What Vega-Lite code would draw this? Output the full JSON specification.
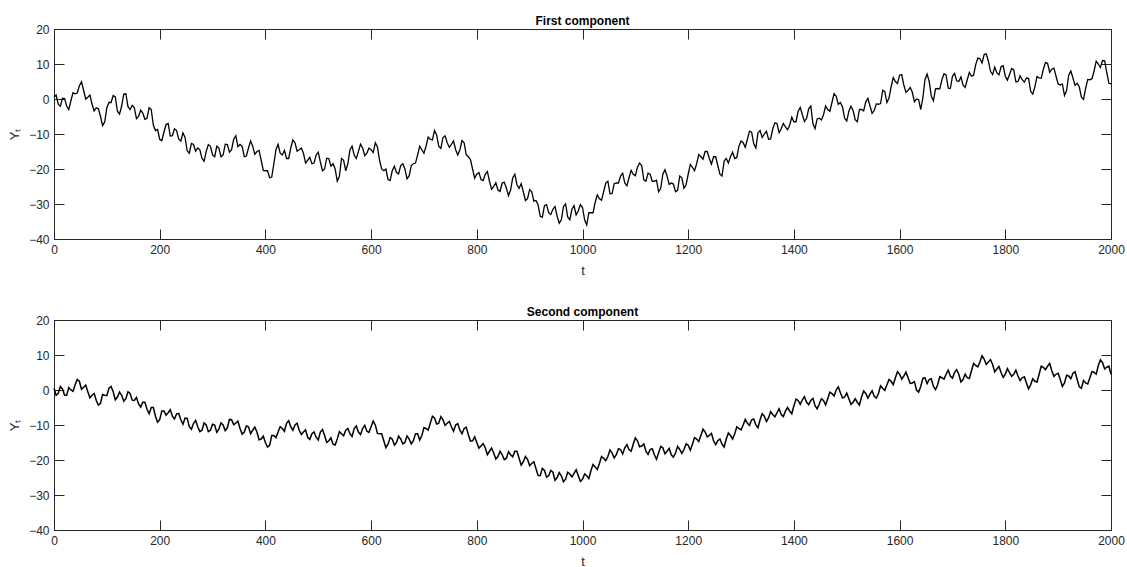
{
  "$schema": "https://vega.github.io/schema/vega-lite/v6.json",
  "background": "white",
  "padding": {"left": 8, "top": 15, "right": 10, "bottom": 0},
  "config": {
    "view": {"stroke": null},
    "font": "Liberation Sans",
    "axis": {"domainColor": "#262626", "tickColor": "#262626", "labelColor": "#262626", "titleColor": "#262626", "labelFont": "Liberation Sans", "titleFont": "Liberation Sans", "labelFontSize": 12, "titleFontSize": 13, "titleFontWeight": "normal", "grid": false, "tickSize": -10, "domainWidth": 1, "tickWidth": 1, "labelFlush": false},
    "title": {"fontSize": 12, "fontWeight": "bold", "color": "#000000", "font": "Liberation Sans", "offset": -5, "baseline": "alphabetic"},
    "concat": {"spacing": 29}
  },
  "data": {"values": [
{"t":0,"a":0.5,"b":0.5},{"t":8,"a":-1.5,"b":-1},{"t":16,"a":0.2,"b":0.3},{"t":24,"a":-2,"b":-1.5},{"t":32,"a":-0.5,"b":0},{"t":40,"a":1.5,"b":1.5},{"t":48,"a":3.8,"b":2.5},{"t":56,"a":2.5,"b":0.8},{"t":64,"a":0.5,"b":-0.5},{"t":72,"a":-1.5,"b":-1.5},
{"t":80,"a":-2.5,"b":-3},{"t":88,"a":-5,"b":-3.8},{"t":96,"a":-6.5,"b":-1.5},{"t":104,"a":-1,"b":0.5},{"t":112,"a":1,"b":-0.5},{"t":120,"a":-3.5,"b":-2},{"t":128,"a":-2,"b":-1.5},{"t":136,"a":1.5,"b":-2.5},{"t":144,"a":-3,"b":-1},{"t":152,"a":-2.5,"b":-3},
{"t":160,"a":-5,"b":-4},{"t":168,"a":-4,"b":-3.5},{"t":176,"a":-5.5,"b":-5.5},{"t":184,"a":-3,"b":-5},{"t":192,"a":-9,"b":-7.5},{"t":200,"a":-11.5,"b":-8.5},{"t":208,"a":-9.5,"b":-6},{"t":216,"a":-7,"b":-6.5},{"t":224,"a":-10.5,"b":-7.5},{"t":232,"a":-9,"b":-6.8},
{"t":240,"a":-12,"b":-8.5},{"t":248,"a":-11,"b":-8},{"t":256,"a":-15.5,"b":-10.5},{"t":264,"a":-13,"b":-9.5},{"t":272,"a":-14,"b":-10.5},{"t":280,"a":-17,"b":-11.5},{"t":288,"a":-15,"b":-10},{"t":296,"a":-13.5,"b":-11.5},{"t":304,"a":-16.5,"b":-10},{"t":312,"a":-14,"b":-11.2},
{"t":320,"a":-16,"b":-10},{"t":328,"a":-13,"b":-10.8},{"t":336,"a":-14.5,"b":-8.5},{"t":344,"a":-10.5,"b":-9.5},{"t":352,"a":-13,"b":-11},{"t":360,"a":-16.5,"b":-12},{"t":368,"a":-14,"b":-10.5},{"t":376,"a":-13.5,"b":-11.5},{"t":384,"a":-15,"b":-12},{"t":392,"a":-17.5,"b":-14},
{"t":400,"a":-20.5,"b":-15},{"t":408,"a":-22.5,"b":-15.8},{"t":416,"a":-18.5,"b":-13},{"t":424,"a":-13,"b":-12},{"t":432,"a":-16,"b":-11},{"t":440,"a":-17,"b":-9.5},{"t":448,"a":-14,"b":-10.5},{"t":456,"a":-12.5,"b":-10},{"t":464,"a":-14.5,"b":-11.5},{"t":472,"a":-15.5,"b":-12},
{"t":480,"a":-17.5,"b":-13.5},{"t":488,"a":-18.5,"b":-12.5},{"t":496,"a":-16,"b":-13.5},{"t":504,"a":-18,"b":-12},{"t":512,"a":-20,"b":-13},{"t":520,"a":-17,"b":-14.5},{"t":528,"a":-18.5,"b":-15.5},{"t":536,"a":-23.5,"b":-14},{"t":544,"a":-17,"b":-12.5},{"t":552,"a":-20.5,"b":-11.5},
{"t":560,"a":-14.5,"b":-12.5},{"t":568,"a":-16,"b":-11},{"t":576,"a":-15,"b":-12},{"t":584,"a":-14,"b":-11},{"t":592,"a":-15.5,"b":-11.8},{"t":600,"a":-14.5,"b":-10.5},{"t":608,"a":-12.5,"b":-10},{"t":616,"a":-17.5,"b":-12.5},{"t":624,"a":-20.5,"b":-14.5},{"t":632,"a":-23,"b":-15.5},
{"t":640,"a":-20.5,"b":-14},{"t":648,"a":-21,"b":-15},{"t":656,"a":-19,"b":-14},{"t":664,"a":-20,"b":-15},{"t":672,"a":-22,"b":-14},{"t":680,"a":-18.5,"b":-14.5},{"t":688,"a":-16,"b":-12.5},{"t":696,"a":-14.5,"b":-13},{"t":704,"a":-13.5,"b":-11},{"t":712,"a":-11.5,"b":-9.5},
{"t":720,"a":-9,"b":-8},{"t":728,"a":-13.5,"b":-9.5},{"t":736,"a":-11,"b":-8.5},{"t":744,"a":-12.5,"b":-9.5},{"t":752,"a":-13,"b":-10.5},{"t":760,"a":-14.5,"b":-10},{"t":768,"a":-14.5,"b":-11.5},{"t":776,"a":-12.5,"b":-11},{"t":784,"a":-16.5,"b":-12.8},{"t":792,"a":-20,"b":-14.5},
{"t":800,"a":-21.5,"b":-15},{"t":808,"a":-23,"b":-16},{"t":816,"a":-21.5,"b":-16.5},{"t":824,"a":-23.5,"b":-17.5},{"t":832,"a":-25,"b":-18},{"t":840,"a":-26,"b":-19},{"t":848,"a":-24,"b":-18.5},{"t":856,"a":-25.5,"b":-19.5},{"t":864,"a":-26,"b":-18.5},{"t":872,"a":-21.5,"b":-17.5},
{"t":880,"a":-25.5,"b":-19.5},{"t":888,"a":-26.5,"b":-20.5},{"t":896,"a":-28.5,"b":-19.8},{"t":904,"a":-26.5,"b":-21},{"t":912,"a":-29,"b":-22.5},{"t":920,"a":-33.5,"b":-24.5},{"t":928,"a":-30.5,"b":-23},{"t":936,"a":-32.5,"b":-24.5},{"t":944,"a":-31.5,"b":-23.5},{"t":952,"a":-33.5,"b":-25},
{"t":960,"a":-34.5,"b":-24.5},{"t":968,"a":-30,"b":-25.5},{"t":976,"a":-34.5,"b":-24},{"t":984,"a":-30.5,"b":-23.8},{"t":992,"a":-32,"b":-24.5},{"t":1000,"a":-31,"b":-25.5},{"t":1008,"a":-36,"b":-24.5},{"t":1016,"a":-32.5,"b":-23},{"t":1024,"a":-29.5,"b":-22},{"t":1032,"a":-28.5,"b":-21},
{"t":1040,"a":-26.5,"b":-19.5},{"t":1048,"a":-23.5,"b":-19},{"t":1056,"a":-27,"b":-18},{"t":1064,"a":-24,"b":-18.5},{"t":1072,"a":-22,"b":-17},{"t":1080,"a":-24,"b":-16.5},{"t":1088,"a":-22.5,"b":-17},{"t":1096,"a":-21.5,"b":-15.5},{"t":1104,"a":-19.5,"b":-14.5},{"t":1112,"a":-19,"b":-16},
{"t":1120,"a":-23.5,"b":-17.5},{"t":1128,"a":-21.5,"b":-17},{"t":1136,"a":-23.5,"b":-18.5},{"t":1144,"a":-26.5,"b":-18},{"t":1152,"a":-21.5,"b":-16.5},{"t":1160,"a":-22,"b":-17.5},{"t":1168,"a":-24,"b":-18.5},{"t":1176,"a":-26.5,"b":-18},{"t":1184,"a":-22,"b":-17},{"t":1192,"a":-25.5,"b":-17},
{"t":1200,"a":-21.5,"b":-15.8},{"t":1208,"a":-19.5,"b":-15.5},{"t":1216,"a":-18.5,"b":-14},{"t":1224,"a":-16.5,"b":-13},{"t":1232,"a":-15,"b":-12},{"t":1240,"a":-17,"b":-13},{"t":1248,"a":-16.5,"b":-14.5},{"t":1256,"a":-19,"b":-14.5},{"t":1264,"a":-22,"b":-15.5},{"t":1272,"a":-17,"b":-14},
{"t":1280,"a":-16.5,"b":-13},{"t":1288,"a":-17,"b":-12.5},{"t":1296,"a":-13.5,"b":-11},{"t":1304,"a":-12.5,"b":-10},{"t":1312,"a":-11.5,"b":-9.5},{"t":1320,"a":-9.5,"b":-8.5},{"t":1328,"a":-14,"b":-10},{"t":1336,"a":-9,"b":-8.5},{"t":1344,"a":-10,"b":-7.5},{"t":1352,"a":-11.5,"b":-8},
{"t":1360,"a":-8.5,"b":-7},{"t":1368,"a":-7,"b":-6.5},{"t":1376,"a":-8.5,"b":-7},{"t":1384,"a":-8,"b":-6},{"t":1392,"a":-7.5,"b":-6},{"t":1400,"a":-6.5,"b":-4.5},{"t":1408,"a":-3.5,"b":-3},{"t":1416,"a":-4.5,"b":-2.8},{"t":1424,"a":-5.5,"b":-3.5},{"t":1432,"a":-2,"b":-3},
{"t":1440,"a":-8.5,"b":-4.5},{"t":1448,"a":-5.5,"b":-4},{"t":1456,"a":-4.5,"b":-3},{"t":1464,"a":-3,"b":-2.5},{"t":1472,"a":-1,"b":-1},{"t":1480,"a":0.8,"b":0},{"t":1488,"a":-1,"b":-0.8},{"t":1496,"a":-5.5,"b":-2},{"t":1504,"a":-3.5,"b":-2.5},{"t":1512,"a":-3.3,"b":-3.5},
{"t":1520,"a":-6.5,"b":-3.5},{"t":1528,"a":-3,"b":-2},{"t":1536,"a":-0.8,"b":-1},{"t":1544,"a":-2,"b":-1.2},{"t":1552,"a":-3.3,"b":-1.8},{"t":1560,"a":-1.5,"b":-1},{"t":1568,"a":2.5,"b":0.5},{"t":1576,"a":-1,"b":1.5},{"t":1584,"a":3.5,"b":2.5},{"t":1592,"a":5,"b":3.5},
{"t":1600,"a":6.8,"b":4.5},{"t":1608,"a":4,"b":4},{"t":1616,"a":2.5,"b":3.5},{"t":1624,"a":2,"b":2},{"t":1632,"a":0,"b":0},{"t":1640,"a":-3,"b":1},{"t":1648,"a":5.5,"b":3.5},{"t":1656,"a":5,"b":3},{"t":1664,"a":-0.5,"b":1},{"t":1672,"a":3,"b":1.5},
{"t":1680,"a":5.5,"b":3.5},{"t":1688,"a":6.8,"b":4.5},{"t":1696,"a":3,"b":4},{"t":1704,"a":7.3,"b":5},{"t":1712,"a":5,"b":4.5},{"t":1720,"a":4,"b":3},{"t":1728,"a":5.5,"b":3.5},{"t":1736,"a":6.5,"b":5.5},{"t":1744,"a":9.8,"b":7},{"t":1752,"a":11.5,"b":8},
{"t":1760,"a":12.7,"b":8.8},{"t":1768,"a":10.8,"b":8},{"t":1776,"a":7,"b":7.3},{"t":1784,"a":7.5,"b":6},{"t":1792,"a":9.2,"b":5},{"t":1800,"a":6.5,"b":4.5},{"t":1808,"a":7,"b":5},{"t":1816,"a":8.3,"b":4.5},{"t":1824,"a":5,"b":4},{"t":1832,"a":5.5,"b":3.5},
{"t":1840,"a":6,"b":2},{"t":1848,"a":2.2,"b":1.5},{"t":1856,"a":3.5,"b":2.5},{"t":1864,"a":6,"b":4.5},{"t":1872,"a":8.5,"b":6.5},{"t":1880,"a":10.2,"b":6.8},{"t":1888,"a":8.5,"b":5.5},{"t":1896,"a":6.5,"b":4.5},{"t":1904,"a":4,"b":3},{"t":1912,"a":1,"b":2},
{"t":1920,"a":6.8,"b":4},{"t":1928,"a":6,"b":4.8},{"t":1936,"a":4.5,"b":3},{"t":1944,"a":0.5,"b":0.5},{"t":1952,"a":3,"b":2},{"t":1960,"a":5.5,"b":3.5},{"t":1968,"a":8,"b":5},{"t":1976,"a":10,"b":7},{"t":1984,"a":11,"b":7.8},{"t":1992,"a":7.5,"b":6.5},
{"t":2000,"a":4.3,"b":4.5},
{"t":4,"a":1.1,"b":-1.5},{"t":12,"a":-2.1,"b":1},{"t":20,"a":0.1,"b":-1.5},{"t":28,"a":-3,"b":0.7},{"t":36,"a":1.8,"b":-0.4},{"t":44,"a":1.7,"b":3},{"t":52,"a":4.9,"b":0.2},{"t":60,"a":0,"b":1.4},{"t":68,"a":1.1,"b":-2.2},{"t":76,"a":-3.4,"b":-1},
{"t":84,"a":-2.8,"b":-4.3},{"t":92,"a":-7.6,"b":-1.3},{"t":100,"a":-2.5,"b":-1.6},{"t":108,"a":-1,"b":1},{"t":116,"a":0.6,"b":-2.8},{"t":124,"a":-4.3,"b":-0.6},{"t":132,"a":1.4,"b":-3.2},{"t":140,"a":-2.2,"b":-0.5},{"t":148,"a":-1.8,"b":-2.9},{"t":156,"a":-5.6,"b":-2.1},
{"t":164,"a":-3.2,"b":-4.9},{"t":172,"a":-5.8,"b":-3.5},{"t":180,"a":-2.5,"b":-6.8},{"t":188,"a":-7.5,"b":-5},{"t":196,"a":-8.7,"b":-9.2},{"t":204,"a":-11.9,"b":-6},{"t":212,"a":-7.3,"b":-7.2},{"t":220,"a":-10.6,"b":-5.6},{"t":228,"a":-8.5,"b":-8.3},{"t":236,"a":-11.5,"b":-6.7},
{"t":244,"a":-9.7,"b":-9.8},{"t":252,"a":-14.8,"b":-8.1},{"t":260,"a":-12.7,"b":-11.2},{"t":268,"a":-14.9,"b":-8.7},{"t":276,"a":-14.5,"b":-11.9},{"t":284,"a":-17.8,"b":-9.4},{"t":292,"a":-13,"b":-11.9},{"t":300,"a":-16,"b":-9.8},{"t":308,"a":-13.5,"b":-12.1},{"t":316,"a":-16.5,"b":-9.4},
{"t":324,"a":-12.9,"b":-11.6},{"t":332,"a":-15.2,"b":-8.4},{"t":340,"a":-11.5,"b":-9.9},{"t":348,"a":-13.6,"b":-8.9},{"t":356,"a":-13.5,"b":-12.6},{"t":364,"a":-16.3,"b":-10.3},{"t":372,"a":-12,"b":-12.5},{"t":380,"a":-15.8,"b":-10.6},{"t":388,"a":-14.7,"b":-14.2},{"t":396,"a":-20.4,"b":-13.2},
{"t":404,"a":-20.5,"b":-16.3},{"t":412,"a":-22.3,"b":-13},{"t":420,"a":-14.5,"b":-13.6},{"t":428,"a":-15.5,"b":-10.5},{"t":436,"a":-14.7,"b":-11.8},{"t":444,"a":-17,"b":-8.8},{"t":452,"a":-11.7,"b":-11.5},{"t":460,"a":-14.9,"b":-9.5},{"t":468,"a":-14,"b":-12.7},{"t":476,"a":-18.3,"b":-11.4},
{"t":484,"a":-16.7,"b":-14.1},{"t":492,"a":-18.3,"b":-12},{"t":500,"a":-15.2,"b":-14.3},{"t":508,"a":-20.5,"b":-11.3},{"t":516,"a":-16.9,"b":-15},{"t":524,"a":-19.2,"b":-13.7},{"t":532,"a":-20,"b":-15.7},{"t":540,"a":-22.1,"b":-11.9},{"t":548,"a":-17.5,"b":-13.1},{"t":556,"a":-18.5,"b":-11},
{"t":564,"a":-13.5,"b":-13.3},{"t":572,"a":-17,"b":-10.3},{"t":580,"a":-12.9,"b":-12.7},{"t":588,"a":-16.2,"b":-10.1},{"t":596,"a":-14,"b":-12.1},{"t":604,"a":-15.3,"b":-8.9},{"t":612,"a":-13.7,"b":-12.4},{"t":620,"a":-20,"b":-12.5},{"t":628,"a":-20,"b":-16.5},{"t":636,"a":-23.3,"b":-13.6},
{"t":644,"a":-19.2,"b":-15.7},{"t":652,"a":-21.4,"b":-13.2},{"t":660,"a":-18.5,"b":-15.4},{"t":668,"a":-22.8,"b":-13.1},{"t":676,"a":-19,"b":-15.4},{"t":684,"a":-18.3,"b":-12.5},{"t":692,"a":-13.5,"b":-14.3},{"t":700,"a":-15.5,"b":-10.8},{"t":708,"a":-10.9,"b":-11.5},{"t":716,"a":-11.7,"b":-7.5},
{"t":724,"a":-10.3,"b":-9.7},{"t":732,"a":-14.1,"b":-7.6},{"t":740,"a":-10.5,"b":-10.1},{"t":748,"a":-13.8,"b":-9},{"t":756,"a":-12,"b":-11.8},{"t":764,"a":-16,"b":-9.6},{"t":772,"a":-11.9,"b":-12.5},{"t":780,"a":-15.9,"b":-10.6},{"t":788,"a":-17.3,"b":-14.6},{"t":796,"a":-22.6,"b":-13.4},
{"t":804,"a":-21,"b":-16.6},{"t":812,"a":-23.3,"b":-15.3},{"t":820,"a":-20.7,"b":-18.5},{"t":828,"a":-25.8,"b":-16.6},{"t":836,"a":-23.9,"b":-19.7},{"t":844,"a":-26.4,"b":-17.5},{"t":852,"a":-23.8,"b":-19.9},{"t":860,"a":-27.6,"b":-17.6},{"t":868,"a":-22.5,"b":-19.1},{"t":876,"a":-24.5,"b":-17.5},
{"t":884,"a":-24.2,"b":-21.5},{"t":892,"a":-29,"b":-19},{"t":900,"a":-25.9,"b":-21.6},{"t":908,"a":-29.2,"b":-20.5},{"t":916,"a":-30.3,"b":-24.4},{"t":924,"a":-33.8,"b":-22.4},{"t":932,"a":-30.2,"b":-24.9},{"t":940,"a":-33,"b":-23},{"t":948,"a":-30.7,"b":-25.8},{"t":956,"a":-35.5,"b":-23.6},
{"t":964,"a":-30.7,"b":-26.2},{"t":972,"a":-33.7,"b":-23.5},{"t":980,"a":-31.5,"b":-24.8},{"t":988,"a":-33.1,"b":-22.8},{"t":996,"a":-30.2,"b":-26.1},{"t":1004,"a":-34.5,"b":-24},{"t":1012,"a":-32.5,"b":-25.3},{"t":1020,"a":-32.5,"b":-21.3},{"t":1028,"a":-27.4,"b":-22.7},{"t":1036,"a":-28.9,"b":-19},
{"t":1044,"a":-24,"b":-20.2},{"t":1052,"a":-27.1,"b":-17.1},{"t":1060,"a":-24.2,"b":-19.4},{"t":1068,"a":-24,"b":-16.8},{"t":1076,"a":-21.2,"b":-18.3},{"t":1084,"a":-24.8,"b":-15.6},{"t":1092,"a":-20.4,"b":-17.5},{"t":1100,"a":-21.9,"b":-13.7},{"t":1108,"a":-18.3,"b":-16.2},{"t":1116,"a":-23.1,"b":-15.4},
{"t":1124,"a":-21.2,"b":-18.4},{"t":1132,"a":-23.5,"b":-16.8},{"t":1140,"a":-23.2,"b":-19.8},{"t":1148,"a":-25.5,"b":-16.1},{"t":1156,"a":-20.2,"b":-18.2},{"t":1164,"a":-24.4,"b":-16.7},{"t":1172,"a":-24.3,"b":-19.2},{"t":1180,"a":-26.1,"b":-16.1},{"t":1188,"a":-22.5,"b":-18.1},{"t":1196,"a":-24.5,"b":-15.4},
{"t":1204,"a":-18.7,"b":-17.2},{"t":1212,"a":-20.5,"b":-13.6},{"t":1220,"a":-15.9,"b":-14.7},{"t":1228,"a":-17.2,"b":-11.2},{"t":1236,"a":-15,"b":-13.4},{"t":1244,"a":-18.6,"b":-12.4},{"t":1252,"a":-16.5,"b":-15.6},{"t":1260,"a":-21.5,"b":-14},{"t":1268,"a":-17.7,"b":-16.3},{"t":1276,"a":-18.3,"b":-12.3},
{"t":1284,"a":-15.2,"b":-14},{"t":1292,"a":-16.7,"b":-10.5},{"t":1300,"a":-12,"b":-11.4},{"t":1308,"a":-13.8,"b":-8.4},{"t":1316,"a":-9.2,"b":-10.1},{"t":1324,"a":-12.8,"b":-8.3},{"t":1332,"a":-9.7,"b":-10.8},{"t":1340,"a":-11,"b":-6.8},{"t":1348,"a":-9.2,"b":-9},{"t":1356,"a":-11.4,"b":-6.2},
{"t":1364,"a":-6.8,"b":-7.7},{"t":1372,"a":-9.6,"b":-5.4},{"t":1380,"a":-7,"b":-7.6},{"t":1388,"a":-8.8,"b":-5},{"t":1396,"a":-5.2,"b":-6.8},{"t":1404,"a":-6.5,"b":-2.6},{"t":1412,"a":-2.4,"b":-4.1},{"t":1420,"a":-6.4,"b":-1.9},{"t":1428,"a":-2.8,"b":-4.2},{"t":1436,"a":-7.1,"b":-2.4},
{"t":1444,"a":-5.7,"b":-5.4},{"t":1452,"a":-6,"b":-2.5},{"t":1460,"a":-2,"b":-4.3},{"t":1468,"a":-3.5,"b":-0.6},{"t":1476,"a":1.5,"b":-1.7},{"t":1484,"a":-1.5,"b":0.9},{"t":1492,"a":-2.3,"b":-2.3},{"t":1500,"a":-6.3,"b":-0.9},{"t":1508,"a":-2.1,"b":-4.1},{"t":1516,"a":-5.9,"b":-2.5},
{"t":1524,"a":-3,"b":-4.3},{"t":1532,"a":-3.4,"b":-0.3},{"t":1540,"a":0.2,"b":-2.3},{"t":1548,"a":-4.1,"b":-0.2},{"t":1556,"a":-1.4,"b":-2.3},{"t":1564,"a":-1.3,"b":1.2},{"t":1572,"a":2.1,"b":-0.1},{"t":1580,"a":0.3,"b":3},{"t":1588,"a":6.1,"b":1.5},{"t":1596,"a":4.4,"b":5.2},
{"t":1604,"a":7,"b":3.1},{"t":1612,"a":1.9,"b":5.1},{"t":1620,"a":3.3,"b":1.9},{"t":1628,"a":-0.8,"b":2.4},{"t":1636,"a":-0.2,"b":-0.6},{"t":1644,"a":0.3,"b":3.3},{"t":1652,"a":7.1,"b":1.8},{"t":1660,"a":0.8,"b":3.2},{"t":1668,"a":2.9,"b":0.1},{"t":1676,"a":2.9,"b":3.8},
{"t":1684,"a":7.2,"b":3.1},{"t":1692,"a":3.1,"b":5.7},{"t":1700,"a":6.5,"b":3.4},{"t":1708,"a":5.2,"b":5.8},{"t":1716,"a":6.3,"b":2.3},{"t":1724,"a":3.3,"b":4.5},{"t":1732,"a":7.6,"b":3.3},{"t":1740,"a":6.8,"b":7.6},{"t":1748,"a":11.7,"b":6.6},{"t":1756,"a":10.3,"b":9.8},
{"t":1764,"a":12.9,"b":7.3},{"t":1772,"a":7.9,"b":8.7},{"t":1780,"a":9.1,"b":5.2},{"t":1788,"a":6.9,"b":6.7},{"t":1796,"a":9.5,"b":3.6},{"t":1804,"a":5.4,"b":6.1},{"t":1812,"a":8.7,"b":3.9},{"t":1820,"a":4.9,"b":5.7},{"t":1828,"a":6.6,"b":2.7},{"t":1836,"a":4.8,"b":3.8},
{"t":1844,"a":5.9,"b":0.3},{"t":1852,"a":1.4,"b":3.2},{"t":1860,"a":6.4,"b":2.3},{"t":1868,"a":5.9,"b":6.8},{"t":1876,"a":10.4,"b":5.8},{"t":1884,"a":7.6,"b":7.6},{"t":1892,"a":8.8,"b":3.9},{"t":1900,"a":4.3,"b":4.8},{"t":1908,"a":4.3,"b":1},{"t":1916,"a":2.4,"b":4.2},
{"t":1924,"a":8,"b":3.2},{"t":1932,"a":3.9,"b":5.2},{"t":1940,"a":3.5,"b":0.9},{"t":1948,"a":-0.1,"b":2.7},{"t":1956,"a":5.6,"b":1.7},{"t":1964,"a":5.8,"b":5.3},{"t":1972,"a":10.8,"b":4.5},{"t":1980,"a":9,"b":8.6},{"t":1988,"a":10.9,"b":6},{"t":1996,"a":4.5,"b":6.8}
  ]},
  "vconcat": [
    {
      "width": 1057, "height": 210,
      "title": "First component",
      "layer": [
        {"mark": {"type": "line", "color": "#000000", "strokeWidth": 1.3},
         "encoding": {
           "x": {"field": "t", "type": "quantitative", "scale": {"domain": [0, 2000], "nice": false},
                 "axis": {"values": [0,200,400,600,800,1000,1200,1400,1600,1800,2000], "format": "d", "title": "t", "labelPadding": 15, "titlePadding": 9}},
           "y": {"field": "a", "type": "quantitative", "scale": {"domain": [-40, 20], "nice": false},
                 "axis": {"values": [-40,-30,-20,-10,0,10,20], "format": "d", "title": "Yₜ", "labelPadding": 15, "titlePadding": 7}}}},
        {"mark": {"type": "line", "strokeOpacity": 0},
         "encoding": {
           "x": {"field": "t", "type": "quantitative", "axis": {"orient": "top", "labels": false, "title": null, "values": [0,200,400,600,800,1000,1200,1400,1600,1800,2000]}},
           "y": {"field": "a", "type": "quantitative", "axis": {"orient": "right", "labels": false, "title": null, "values": [-40,-30,-20,-10,0,10,20]}}}}
      ],
      "resolve": {"axis": {"x": "independent", "y": "independent"}}
    },
    {
      "width": 1057, "height": 210,
      "title": "Second component",
      "layer": [
        {"mark": {"type": "line", "color": "#000000", "strokeWidth": 1.5},
         "encoding": {
           "x": {"field": "t", "type": "quantitative", "scale": {"domain": [0, 2000], "nice": false},
                 "axis": {"values": [0,200,400,600,800,1000,1200,1400,1600,1800,2000], "format": "d", "title": "t", "labelPadding": 15, "titlePadding": 9}},
           "y": {"field": "b", "type": "quantitative", "scale": {"domain": [-40, 20], "nice": false},
                 "axis": {"values": [-40,-30,-20,-10,0,10,20], "format": "d", "title": "Yₜ", "labelPadding": 15, "titlePadding": 7}}}},
        {"mark": {"type": "line", "strokeOpacity": 0},
         "encoding": {
           "x": {"field": "t", "type": "quantitative", "axis": {"orient": "top", "labels": false, "title": null, "values": [0,200,400,600,800,1000,1200,1400,1600,1800,2000]}},
           "y": {"field": "b", "type": "quantitative", "axis": {"orient": "right", "labels": false, "title": null, "values": [-40,-30,-20,-10,0,10,20]}}}}
      ],
      "resolve": {"axis": {"x": "independent", "y": "independent"}}
    }
  ]
}
